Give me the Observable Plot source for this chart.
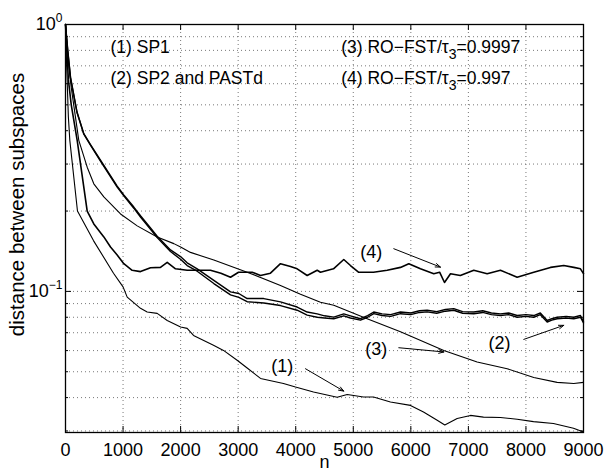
<!DOCTYPE html>
<html>
<head>
<meta charset="utf-8">
<script src="https://cdn.jsdelivr.net/npm/d3@7"></script>
<script src="https://cdn.jsdelivr.net/npm/@observablehq/plot@0.6"></script>
<style>
  html, body { margin: 0; padding: 0; background: #fff; }
  #chart { width: 605px; height: 471px; }
</style>
</head>
<body>
<div id="chart"></div>
<script>
// ---- data ----
// (1) SP1
const n1 = [0, 20, 50, 75, 208, 486, 834, 1000, 1072, 1303, 1419, 1593, 1767, 2000, 2114, 2224, 2571, 2745, 2988, 3162, 3388, 3787, 3996, 4309, 4720, 4894, 5177, 5351, 5646, 5994, 6220, 6458, 6590, 6805, 7036, 7262, 7557, 7847, 8131, 8478, 8826, 9000];
const d1 = [1, 0.7, 0.45, 0.368, 0.2, 0.155, 0.117, 0.104, 0.0952, 0.0864, 0.0837, 0.0827, 0.0778, 0.0735, 0.0727, 0.0684, 0.0628, 0.0601, 0.0551, 0.0515, 0.0472, 0.0452, 0.0438, 0.042, 0.0401, 0.0411, 0.0402, 0.0402, 0.0385, 0.0374, 0.0353, 0.0329, 0.0316, 0.0334, 0.0343, 0.0338, 0.0337, 0.0332, 0.0325, 0.032, 0.0307, 0.0297];

// (2) SP2 and PASTd (two nearly overlapping curves)
const n2a = [0, 40, 87, 200, 318, 434, 608, 898, 1013, 1187, 1303, 1477, 1593, 1824, 1998, 2114, 2288, 2577, 2867, 3011, 3156, 3445, 3735, 4025, 4199, 4373, 4500, 4661, 4835, 4950, 5125, 5250, 5356, 5500, 5650, 5820, 6000, 6150, 6284, 6450, 6600, 6746, 6900, 7094, 7250, 7400, 7557, 7700, 7847, 8000, 8136, 8250, 8369, 8450, 8542, 8700, 8831, 8947, 9000];
const d2a = [1, 0.8, 0.635, 0.47, 0.39, 0.355, 0.31, 0.248, 0.23, 0.207, 0.192, 0.173, 0.161, 0.143, 0.135, 0.128, 0.1215, 0.110, 0.0996, 0.0982, 0.094, 0.094, 0.0914, 0.0874, 0.0837, 0.0824, 0.081, 0.0801, 0.0824, 0.081, 0.079, 0.0812, 0.0837, 0.0824, 0.0818, 0.0837, 0.083, 0.0846, 0.085, 0.084, 0.0855, 0.0862, 0.084, 0.0837, 0.0846, 0.083, 0.0824, 0.083, 0.0812, 0.0818, 0.0812, 0.083, 0.0778, 0.079, 0.080, 0.0806, 0.080, 0.0812, 0.077];
const n2b = [0, 40, 87, 200, 318, 434, 608, 898, 1013, 1187, 1303, 1477, 1593, 1824, 1998, 2114, 2288, 2577, 2867, 3011, 3156, 3445, 3735, 4025, 4199, 4373, 4500, 4661, 4835, 4950, 5125, 5250, 5356, 5500, 5650, 5820, 6000, 6150, 6284, 6450, 6600, 6746, 6900, 7094, 7250, 7400, 7557, 7700, 7847, 8000, 8136, 8250, 8369, 8450, 8542, 8700, 8831, 8947, 9000];
const d2b = [1, 0.79, 0.63, 0.468, 0.388, 0.353, 0.308, 0.246, 0.228, 0.205, 0.19, 0.171, 0.159, 0.141, 0.132, 0.125, 0.119, 0.107, 0.097, 0.095, 0.0915, 0.0905, 0.0885, 0.085, 0.0815, 0.080, 0.0795, 0.079, 0.081, 0.0795, 0.078, 0.080, 0.0825, 0.0812, 0.0806, 0.0825, 0.0818, 0.0834, 0.0838, 0.0828, 0.0843, 0.085, 0.0828, 0.0825, 0.0834, 0.0818, 0.0812, 0.0818, 0.080, 0.0806, 0.080, 0.0818, 0.0768, 0.078, 0.079, 0.0795, 0.079, 0.080, 0.0762];

// (3) RO-FST, tau3 = 0.9997
const n3 = [0, 50, 100, 231, 377, 492, 666, 956, 1246, 1593, 1882, 2000, 2172, 2577, 3156, 3735, 4083, 4430, 4661, 5241, 5820, 6573, 7152, 7674, 8136, 8542, 8831, 9000];
const d3 = [1, 0.72, 0.58, 0.368, 0.292, 0.253, 0.226, 0.195, 0.176, 0.160, 0.151, 0.1466, 0.140, 0.131, 0.118, 0.1053, 0.0975, 0.091, 0.0887, 0.079, 0.0706, 0.0601, 0.0544, 0.0513, 0.0476, 0.0456, 0.0452, 0.0456];

// (4) RO-FST, tau3 = 0.997
const n4 = [0, 50, 100, 203, 377, 492, 666, 782, 898, 1013, 1158, 1303, 1477, 1650, 1767, 1911, 2114, 2288, 2519, 2700, 2867, 3006, 3243, 3388, 3561, 3735, 3909, 4025, 4199, 4373, 4430, 4656, 4835, 4951, 5090, 5351, 5589, 5820, 5965, 6167, 6399, 6500, 6585, 6689, 6860, 7094, 7326, 7557, 7847, 8136, 8426, 8657, 8831, 8947, 9000];
const d4 = [1, 0.62, 0.5, 0.368, 0.2, 0.179, 0.160, 0.1466, 0.137, 0.127, 0.120, 0.1186, 0.1227, 0.123, 0.1285, 0.1215, 0.120, 0.120, 0.120, 0.117, 0.113, 0.118, 0.118, 0.1147, 0.117, 0.127, 0.124, 0.1215, 0.1147, 0.120, 0.118, 0.1215, 0.1317, 0.125, 0.118, 0.118, 0.12, 0.123, 0.127, 0.1215, 0.1165, 0.118, 0.108, 0.1165, 0.1147, 0.12, 0.1165, 0.12, 0.113, 0.118, 0.123, 0.125, 0.123, 0.1215, 0.1165];

// axis ticks
const xTicks = [0, 1000, 2000, 3000, 4000, 5000, 6000, 7000, 8000, 9000];
const yMajor = [0.1, 1];
const yMinor = [0.03, 0.04, 0.05, 0.06, 0.07, 0.08, 0.09, 0.2, 0.3, 0.4, 0.5, 0.6, 0.7, 0.8, 0.9];
const yGrid = [0.03, 0.04, 0.05, 0.06, 0.07, 0.08, 0.09, 0.1, 0.2, 0.3, 0.4, 0.5, 0.6, 0.7, 0.8, 0.9];

// annotations
const legendText = ["(1) SP1", "(2) SP2 and PASTd", "(3) RO−FST/τ_{3}=0.9997", "(4) RO−FST/τ_{3}=0.997"];
const legendN = [782, 782, 4790, 4790];
const legendV = [0.82, 0.63, 0.82, 0.63];

const tagText = ["(1)", "(2)", "(3)", "(4)"];
const tagN = [3765, 7540, 5400, 5313];
const tagV = [0.0524, 0.0641, 0.0607, 0.1403];

const arrowN1 = [4170, 7963, 5791, 5704];
const arrowV1 = [0.0513, 0.0661, 0.0615, 0.1445];
const arrowN2 = [4835, 8657, 6573, 6515];
const arrowV2 = [0.0423, 0.0746, 0.0593, 0.1233];

// ---- build tables ----
const zip = (ns, vs) => ns.map((n, i) => ({n, v: vs[i]}));
const s1 = zip(n1, d1), s2a = zip(n2a, d2a), s2b = zip(n2b, d2b), s3 = zip(n3, d3), s4 = zip(n4, d4);
const legend = legendText.map((t, i) => ({t, n: legendN[i], v: legendV[i]}));
const tags = tagText.map((t, i) => ({t, n: tagN[i], v: tagV[i]}));
const arrows = arrowN1.map((n, i) => ({n1: n, v1: arrowV1[i], n2: arrowN2[i], v2: arrowV2[i]}));

const W = 605, H = 471;
const mt = 24, mr = 22, mb = 39, ml = 65;
const iw = W - ml - mr, ih = H - mt - mb;
const FONT = "Liberation Sans, Arial, Helvetica, sans-serif";
const gridStyle = {stroke: "#555", strokeDasharray: "1,3", strokeWidth: 0.8};

const chart = Plot.plot({
  width: W, height: H,
  marginTop: mt, marginRight: mr, marginBottom: mb, marginLeft: ml,
  style: {fontFamily: FONT, fontSize: "17px", color: "black", background: "white"},
  x: {domain: [0, 9000]},
  y: {type: "log", domain: [0.0296, 1]},
  marks: [
    Plot.ruleX(xTicks, {x: d => d, ...gridStyle}),
    Plot.ruleY(yGrid, {y: d => d, ...gridStyle}),
    Plot.line(s3, {x: "n", y: "v", stroke: "black", strokeWidth: 1.1}),
    Plot.line(s1, {x: "n", y: "v", stroke: "black", strokeWidth: 1.1}),
    Plot.line(s2b, {x: "n", y: "v", stroke: "black", strokeWidth: 1.4}),
    Plot.line(s2a, {x: "n", y: "v", stroke: "black", strokeWidth: 1.4}),
    Plot.line(s4, {x: "n", y: "v", stroke: "black", strokeWidth: 1.6}),
    // inward tick marks (bottom/top)
    Plot.tickX(xTicks, {x: d => d, insetTop: ih - 6, stroke: "black"}),
    Plot.tickX(xTicks, {x: d => d, insetBottom: ih - 6, stroke: "black"}),
    // inward tick marks (left/right)
    Plot.tickY(yMajor, {y: d => d, insetRight: iw - 6, stroke: "black"}),
    Plot.tickY(yMajor, {y: d => d, insetLeft: iw - 6, stroke: "black"}),
    Plot.tickY(yMinor, {y: d => d, insetRight: iw - 3, stroke: "black"}),
    Plot.tickY(yMinor, {y: d => d, insetLeft: iw - 3, stroke: "black"}),
    Plot.frame({stroke: "black", strokeWidth: 1.3}),
    Plot.axisX({ticks: xTicks, tickSize: 0, tickPadding: 11, tickFormat: d => String(d), fontSize: 18, label: null}),
    Plot.axisY({ticks: yMajor, tickSize: 0, tickPadding: 3, tickFormat: d => d === 1 ? "10^{0}" : "10^{−1}", fontSize: 18, label: null}),
    Plot.text(["distance between subspaces"], {frameAnchor: "left", text: d => d, rotate: -90, textAnchor: "middle", dx: -48, dy: -24, fontSize: 20.5, lineAnchor: "middle"}),
    Plot.text(["n"], {frameAnchor: "bottom", text: d => d, textAnchor: "middle", dy: 30, fontSize: 18, lineAnchor: "middle"}),
    Plot.text(legend, {x: "n", y: "v", text: "t", textAnchor: "start", fontSize: 17.5, lineAnchor: "middle"}),
    Plot.text(tags, {x: "n", y: "v", text: "t", fontSize: 18, lineAnchor: "middle"}),
    Plot.arrow(arrows, {x1: "n1", y1: "v1", x2: "n2", y2: "v2", stroke: "black", strokeWidth: 1, headLength: 8, headAngle: 40})
  ]
});

// rich text: turn _{..} and ^{..} into sub/superscript tspans
const NS = "http://www.w3.org/2000/svg";
chart.querySelectorAll("text").forEach(t => {
  const s = t.textContent;
  if (!/[_^]\{/.test(s)) return;
  while (t.firstChild) t.removeChild(t.firstChild);
  const re = /([_^])\{([^}]*)\}/g;
  let last = 0, m, shift = 0;
  const add = (str, dy, small) => {
    const sp = document.createElementNS(NS, "tspan");
    sp.textContent = str;
    if (dy) sp.setAttribute("dy", dy);
    if (small) sp.setAttribute("font-size", small);
    t.appendChild(sp);
  };
  while ((m = re.exec(s))) {
    if (m.index > last) { add(s.slice(last, m.index), shift ? -shift : 0, null); shift = 0; }
    const d = m[1] === "_" ? 6 : -8;
    add(m[2], d, m[1] === "_" ? "14px" : "12px");
    shift = d;
    last = re.lastIndex;
  }
  if (last < s.length) add(s.slice(last), shift ? -shift : 0, null);
});

document.getElementById("chart").appendChild(chart);
</script>
</body>
</html>
